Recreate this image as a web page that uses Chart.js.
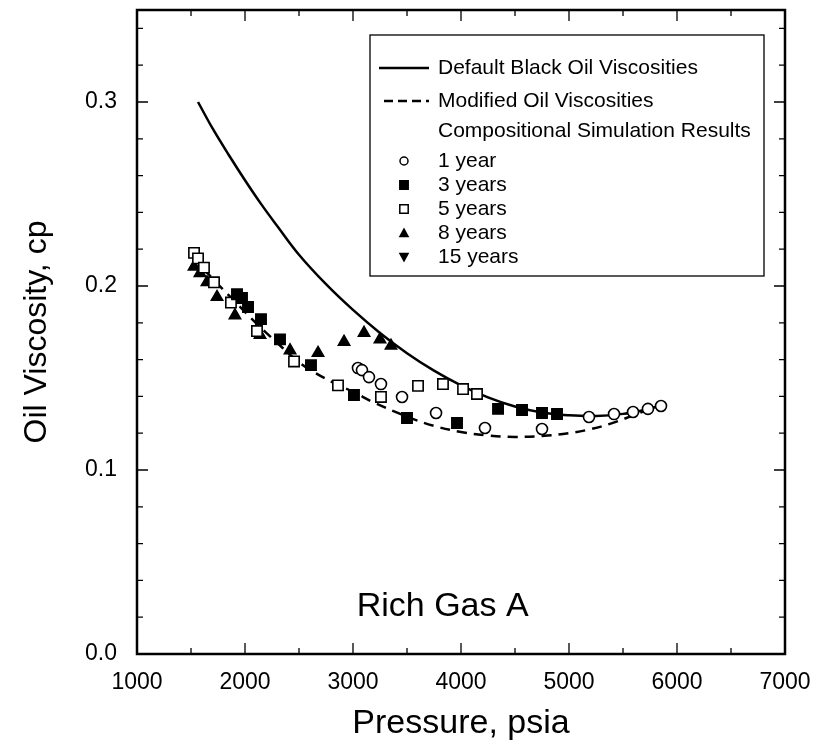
<!DOCTYPE html>
<html>
<head>
<meta charset="utf-8">
<script src="https://cdn.jsdelivr.net/npm/chart.js@4/dist/chart.umd.min.js"></script>
<style>
  html, body { margin: 0; padding: 0; background: #fff; }
</style>
</head>
<body>
<canvas id="viscChart" width="816" height="751"></canvas>
<script>
// curves (pressure psia / viscosity cp)
const defaultP = [1565, 1700, 1850, 2000, 2150, 2300, 2500, 2750, 3000, 3250, 3500, 3750, 4000, 4250, 4500, 4750, 5000, 5250, 5500, 5700, 5850];
const defaultV = [0.300, 0.2856, 0.2712, 0.2575, 0.2445, 0.2325, 0.2170, 0.2010, 0.1870, 0.1745, 0.1635, 0.1540, 0.1460, 0.1395, 0.1345, 0.1312, 0.1297, 0.1293, 0.1305, 0.1327, 0.135];

const modifiedP = [1520, 1700, 1900, 2100, 2300, 2450, 2600, 2850, 3000, 3200, 3500, 3750, 4000, 4250, 4500, 4750, 5000, 5200, 5400, 5600, 5750, 5850];
const modifiedV = [0.216, 0.204, 0.192, 0.180, 0.169, 0.161, 0.1545, 0.1465, 0.1425, 0.1365, 0.1290, 0.1240, 0.1207, 0.1188, 0.1180, 0.1185, 0.1200, 0.1222, 0.1255, 0.1298, 0.1332, 0.1348];

// compositional simulation results
const yr1P = [3046, 3083, 3148, 3259, 3454, 3769, 4222, 4750, 5185, 5417, 5593, 5731, 5852];
const yr1V = [0.1554, 0.1543, 0.1505, 0.1467, 0.1397, 0.131, 0.1228, 0.1223, 0.1288, 0.1304, 0.1315, 0.1332, 0.1348];

const yr3P = [1926, 1972, 2028, 2148, 2324, 2611, 3009, 3500, 3963, 4343, 4565, 4750, 4889];
const yr3V = [0.1955, 0.1935, 0.1886, 0.182, 0.171, 0.157, 0.1408, 0.1283, 0.1255, 0.1332, 0.1326, 0.131, 0.1304];

const yr5P = [1528, 1565, 1620, 1713, 1870, 2111, 2454, 2861, 3259, 3602, 3833, 4019, 4148];
const yr5V = [0.218, 0.215, 0.210, 0.202, 0.191, 0.1755, 0.159, 0.146, 0.1397, 0.1457, 0.1467, 0.144, 0.1413];

const yr8P = [1528, 1583, 1648, 1741, 1907, 2139, 2417, 2676, 2917, 3102, 3250, 3352];
const yr8V = [0.2105, 0.207, 0.202, 0.194, 0.184, 0.1734, 0.165, 0.1636, 0.1696, 0.1745, 0.171, 0.1675];

const yr15P = [];
const yr15V = [];

const xTicks = [1000, 2000, 3000, 4000, 5000, 6000, 7000];
const yTicks = [0, 0.1, 0.2, 0.3];
const yTickLabels = ['0.0', '0.1', '0.2', '0.3'];

const legendLines = ['Default Black Oil Viscosities', 'Modified Oil Viscosities'];
const legendHeader = 'Compositional Simulation Results';
const legendMarks = ['1 year', '3 years', '5 years', '8 years', '15 years'];

const FONT = "'Liberation Sans', Arial, Helvetica, sans-serif";

const toXY = (xs, ys) => xs.map((x, i) => ({ x: x, y: ys[i] }));

function markerSet(label, xs, ys, style, fill, radius, rot) {
    return {
        label: label,
        data: toXY(xs, ys),
        showLine: false,
        pointStyle: style,
        pointRadius: radius,
        pointRotation: rot || 0,
        pointBackgroundColor: fill,
        pointBorderColor: '#000',
        pointBorderWidth: 1.6
    };
}

// frame, inward ticks, text note and the boxed key
const framePlugin = {
    id: 'frame',
    afterDraw(chart) {
        const ctx = chart.ctx;
        const a = chart.chartArea;
        const xs = chart.scales.x, ys = chart.scales.y;
        ctx.save();
        ctx.strokeStyle = '#000';
        ctx.lineWidth = 2.5;
        ctx.strokeRect(a.left, a.top, a.right - a.left, a.bottom - a.top);

        ctx.lineWidth = 1.3;
        ctx.beginPath();
        for (let v = 1000; v <= 7000; v += 500) {
            const px = xs.getPixelForValue(v);
            const len = v % 1000 === 0 ? 11 : 6;
            ctx.moveTo(px, a.bottom); ctx.lineTo(px, a.bottom - len);
            ctx.moveTo(px, a.top); ctx.lineTo(px, a.top + len);
        }
        for (let k = 0; k <= 17; k++) {
            const py = ys.getPixelForValue(k * 0.02);
            const len = k % 5 === 0 ? 11 : 6;
            ctx.moveTo(a.left, py); ctx.lineTo(a.left + len, py);
            ctx.moveTo(a.right, py); ctx.lineTo(a.right - len, py);
        }
        ctx.stroke();

        // annotation
        ctx.fillStyle = '#000';
        ctx.font = '34px ' + FONT;
        ctx.textAlign = 'center';
        ctx.textBaseline = 'middle';
        ctx.fillText('Rich Gas A', xs.getPixelForValue(3830), ys.getPixelForValue(0.0258));

        // key
        const bx = 370, by = 35, bw = 394, bh = 241;
        ctx.fillStyle = '#fff';
        ctx.fillRect(bx, by, bw, bh);
        ctx.lineWidth = 1.3;
        ctx.strokeRect(bx, by, bw, bh);

        ctx.font = '21px ' + FONT;
        ctx.textAlign = 'left';
        ctx.fillStyle = '#000';
        const tx = 438;
        const rows = [68, 101, 131, 161, 185, 209, 233, 257];

        ctx.lineWidth = 2.5;
        ctx.beginPath();
        ctx.moveTo(379, rows[0]); ctx.lineTo(429, rows[0]);
        ctx.stroke();
        ctx.setLineDash([9, 5]);
        ctx.beginPath();
        ctx.moveTo(384, rows[1]); ctx.lineTo(429, rows[1]);
        ctx.stroke();
        ctx.setLineDash([]);
        ctx.fillText(legendLines[0], tx, rows[0]);
        ctx.fillText(legendLines[1], tx, rows[1]);
        ctx.fillText(legendHeader, tx, rows[2]);

        const mx = 404;
        ctx.lineWidth = 1.5;
        legendMarks.forEach((name, i) => {
            const y = rows[3 + i];
            ctx.beginPath();
            if (i === 0) {
                ctx.arc(mx, y, 4, 0, Math.PI * 2);
                ctx.fillStyle = '#fff'; ctx.fill(); ctx.stroke();
            } else if (i === 1 || i === 2) {
                ctx.rect(mx - 4.2, y - 4.2, 8.4, 8.4);
                ctx.fillStyle = i === 1 ? '#000' : '#fff'; ctx.fill(); ctx.stroke();
            } else if (i === 3) {
                ctx.moveTo(mx, y - 5.5); ctx.lineTo(mx + 5.3, y + 4.3); ctx.lineTo(mx - 5.3, y + 4.3); ctx.closePath();
                ctx.fillStyle = '#000'; ctx.fill();
            } else {
                ctx.moveTo(mx, y + 5.5); ctx.lineTo(mx + 5.3, y - 4.3); ctx.lineTo(mx - 5.3, y - 4.3); ctx.closePath();
                ctx.fillStyle = '#000'; ctx.fill();
            }
            ctx.fillStyle = '#000';
            ctx.fillText(name, tx, y);
        });
        ctx.restore();
    }
};

const chart = new Chart(document.getElementById('viscChart').getContext('2d'), {
    type: 'scatter',
    data: {
        datasets: [
            markerSet('1 year', yr1P, yr1V, 'circle', '#fff', 5.5),
            markerSet('3 years', yr3P, yr3V, 'rect', '#000', 7.3),
            markerSet('5 years', yr5P, yr5V, 'rect', '#fff', 7.3),
            markerSet('8 years', yr8P, yr8V, 'triangle', '#000', 6.5),
            markerSet('15 years', yr15P, yr15V, 'triangle', '#000', 6.5, 180),
            {
                label: legendLines[0],
                data: toXY(defaultP, defaultV),
                showLine: true,
                borderColor: '#000',
                borderWidth: 2.5,
                pointRadius: 0,
                tension: 0.4
            },
            {
                label: legendLines[1],
                data: toXY(modifiedP, modifiedV),
                showLine: true,
                borderColor: '#000',
                borderWidth: 2.5,
                borderDash: [10, 7],
                pointRadius: 0,
                tension: 0.4
            }
        ]
    },
    options: {
        responsive: false,
        animation: false,
        layout: { padding: { top: 10, right: 31, left: 0, bottom: 0 } },
        plugins: {
            legend: { display: false },
            tooltip: { enabled: false }
        },
        scales: {
            x: {
                type: 'linear',
                min: 1000,
                max: 7000,
                afterBuildTicks: s => { s.ticks = xTicks.map(v => ({ value: v })); },
                afterFit: s => { s.height = 97; s.paddingLeft = 0; s.paddingRight = 0; },
                grid: { display: false },
                border: { display: false },
                ticks: {
                    color: '#000',
                    padding: 7,
                    maxRotation: 0,
                    font: { family: FONT, size: 23 },
                    callback: v => String(v)
                },
                title: {
                    display: true,
                    text: 'Pressure, psia',
                    color: '#000',
                    font: { family: FONT, size: 34 },
                    padding: { top: 0, bottom: 7 }
                }
            },
            y: {
                type: 'linear',
                min: 0,
                max: 0.35,
                afterBuildTicks: s => { s.ticks = yTicks.map(v => ({ value: v })); },
                afterFit: s => { s.width = 137; s.paddingTop = 0; s.paddingBottom = 0; },
                grid: { display: false },
                border: { display: false },
                ticks: {
                    color: '#000',
                    padding: 12,
                    font: { family: FONT, size: 23 },
                    callback: v => yTickLabels[yTicks.findIndex(t => Math.abs(t - v) < 1e-9)]
                },
                title: {
                    display: true,
                    text: 'Oil Viscosity, cp',
                    color: '#000',
                    font: { family: FONT, size: 32 },
                    padding: { top: 18, bottom: 0 }
                }
            }
        }
    },
    plugins: [framePlugin]
});
</script>
</body>
</html>
